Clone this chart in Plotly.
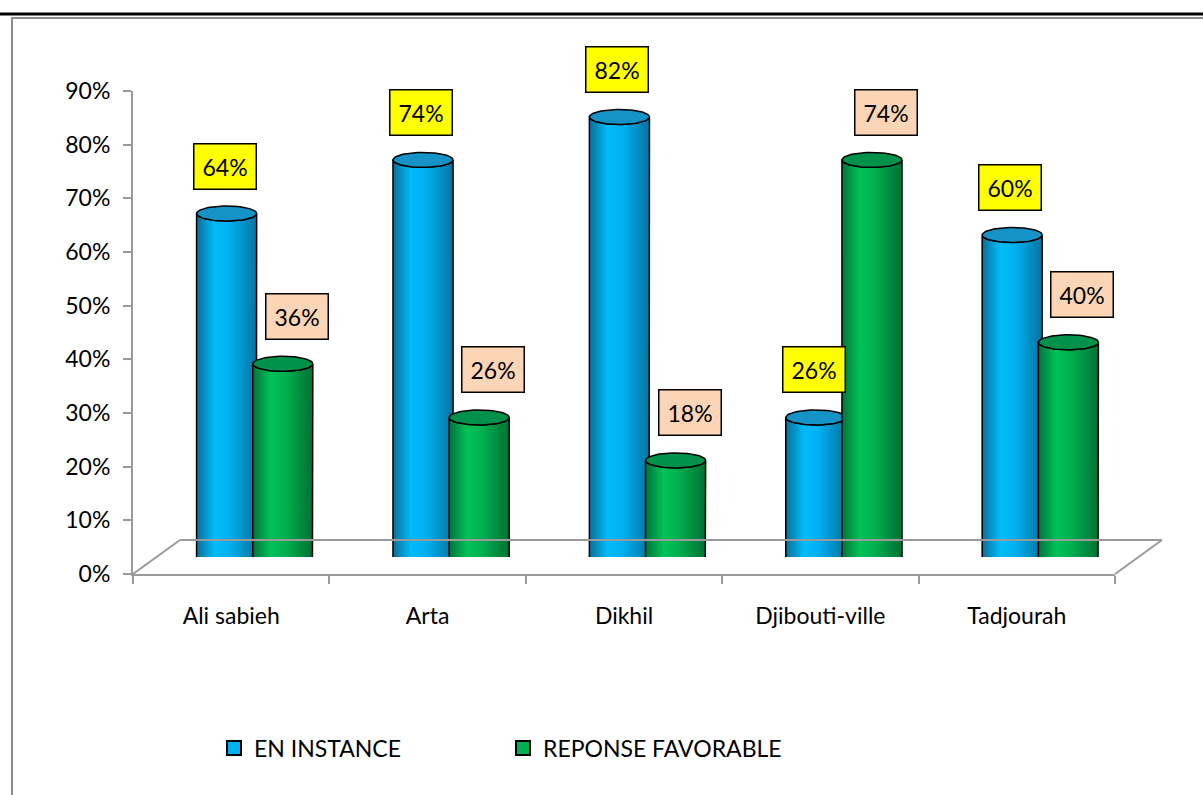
import numpy as np
import plotly.graph_objects as go

categories = ["Ali sabieh", "Arta", "Dikhil", "Djibouti-ville", "Tadjourah"]
en_instance = [0.64, 0.74, 0.82, 0.26, 0.60]
reponse_favorable = [0.36, 0.26, 0.18, 0.74, 0.40]
series_names = ["EN INSTANCE", "REPONSE FAVORABLE"]

W, H = 1203, 795
FONT = "Lato, 'Open Sans', sans-serif"
FS = 23

def px_x(p):
    return p / W

def px_y(p):
    return (H - p) / H

# front plane axis geometry (pixels)
X0, X1 = 133, 1115
Y0, Y90 = 574, 91
DX, DY = 47, 34  # depth offset of the 3D floor

fig = go.Figure()

# invisible trace to establish the category axis (front plane)
fig.add_trace(go.Scatter(x=categories, y=[0] * len(categories), mode="markers",
                         marker=dict(opacity=0), showlegend=False, hoverinfo="skip",
                         xaxis="x", yaxis="y"))

rx = 0.153
ry = 7.5 * 0.9 / (Y0 - Y90)
offs = [-0.143, 0.143]
grad = [
    [[0, "#0a6e99"], [0.3, "#00bcf8"], [0.55, "#00b0f0"], [1, "#06739f"]],
    [[0, "#00743a"], [0.3, "#00c257"], [0.55, "#00b050"], [1, "#006f33"]],
]
base_col = ["#00B0F0", "#00B050"]
capcol = ["#1593c6", "#00924a"]
label_bg = ["#FFFF00", "#FBD5B5"]
label_xshift = [-2, 14]

t_front = np.linspace(np.pi, 2 * np.pi, 40)
t_back = np.linspace(2 * np.pi, np.pi, 40)
t_full = np.linspace(0, 2 * np.pi, 80)

for s, vals in enumerate([en_instance, reponse_favorable]):
    for i, v in enumerate(vals):
        c = i + offs[s]
        xs = np.concatenate([c + rx * np.cos(t_front), c + rx * np.cos(t_back)])
        ys = np.concatenate([v + ry * np.sin(t_front), ry * np.sin(t_back)])
        xs = np.append(xs, xs[0])
        ys = np.append(ys, ys[0])
        fig.add_trace(go.Scatter(
            x=xs, y=ys, mode="lines", fill="toself",
            fillgradient=dict(type="horizontal", colorscale=grad[s]),
            line=dict(color="black", width=1.5),
            name=series_names[s], legendgroup=series_names[s],
            showlegend=False, hoverinfo="skip", xaxis="x2", yaxis="y2"))
        fig.add_trace(go.Scatter(
            x=c + rx * np.cos(t_full), y=v + ry * np.sin(t_full), mode="lines",
            fill="toself", fillcolor=capcol[s], line=dict(color="black", width=1.5),
            legendgroup=series_names[s], showlegend=False, hoverinfo="skip",
            xaxis="x2", yaxis="y2"))
        fig.add_annotation(
            x=c, y=v + ry, xref="x2", yref="y2", text=f"{round(v * 100)}%",
            showarrow=False, yshift=40, xshift=label_xshift[s],
            bgcolor=label_bg[s], bordercolor="black", borderwidth=1.5, borderpad=8,
            font=dict(family=FONT, size=FS, color="black"))

# legend entries (square keys)
for s in range(2):
    fig.add_trace(go.Scatter(
        x=[None], y=[None], mode="markers", name=series_names[s],
        legendgroup=series_names[s], showlegend=True,
        marker=dict(symbol="square", size=14, color=base_col[s],
                    line=dict(color="black", width=2)),
        xaxis="x2", yaxis="y2"))

shapes = []
gray = "#9a9a9a"
# floor
shapes.append(dict(type="line", xref="paper", yref="paper",
                   x0=px_x(X0), y0=px_y(Y0), x1=px_x(X0 + DX), y1=px_y(Y0 - DY),
                   line=dict(color=gray, width=2)))
shapes.append(dict(type="line", xref="paper", yref="paper",
                   x0=px_x(X0 + DX), y0=px_y(Y0 - DY), x1=px_x(X1 + DX), y1=px_y(Y0 - DY),
                   line=dict(color=gray, width=2)))
shapes.append(dict(type="line", xref="paper", yref="paper",
                   x0=px_x(X1), y0=px_y(Y0), x1=px_x(X1 + DX), y1=px_y(Y0 - DY),
                   line=dict(color=gray, width=2)))
# outer frame
shapes.append(dict(type="line", xref="paper", yref="paper",
                   x0=0, y0=px_y(14), x1=1, y1=px_y(14),
                   line=dict(color="black", width=3)))
shapes.append(dict(type="line", xref="paper", yref="paper",
                   x0=px_x(11), y0=px_y(18), x1=1, y1=px_y(18),
                   line=dict(color="#8c8c8c", width=2)))
shapes.append(dict(type="line", xref="paper", yref="paper",
                   x0=px_x(12), y0=px_y(18), x1=px_x(12), y1=0,
                   line=dict(color="#8c8c8c", width=2)))

fig.update_layout(
    width=W, height=H,
    margin=dict(l=0, r=0, t=0, b=0, autoexpand=False),
    paper_bgcolor="white", plot_bgcolor="rgba(0,0,0,0)",
    font=dict(family=FONT, size=FS, color="black"),
    xaxis=dict(domain=[px_x(X0), px_x(X1)], type="category", categoryarray=categories,
               range=[-0.5, len(categories) - 0.5], tickson="boundaries",
               ticks="outside", ticklen=8, tickcolor=gray, tickwidth=2,
               showline=True, linecolor=gray, linewidth=2, showgrid=False,
               zeroline=False, ticklabelstandoff=20, fixedrange=True, automargin=False,
               tickfont=dict(family=FONT, size=FS, color="black")),
    yaxis=dict(domain=[px_y(Y0), px_y(Y90)], range=[0, 0.9], dtick=0.1,
               tickformat=".0%", ticks="outside", ticklen=8, tickcolor=gray,
               tickwidth=2, showline=True, linecolor=gray, linewidth=2,
               showgrid=False, zeroline=False, ticklabelstandoff=8, fixedrange=True,
               automargin=False,
               tickfont=dict(family=FONT, size=FS, color="black")),
    xaxis2=dict(domain=[px_x(X0 + DX / 2), px_x(X1 + DX / 2)], range=[-0.5, len(categories) - 0.5],
                visible=False, anchor="y2", fixedrange=True),
    yaxis2=dict(domain=[px_y(Y0 - DY / 2), px_y(Y90 - DY / 2)], range=[0, 0.9],
                visible=False, anchor="x2", fixedrange=True),
    shapes=shapes,
    showlegend=True,
    legend=dict(orientation="h", x=px_x(214), y=px_y(748), xanchor="left", yanchor="middle",
                entrywidth=244, entrywidthmode="pixels",
                font=dict(family=FONT, size=FS, color="black"),
                bgcolor="rgba(0,0,0,0)"),
)

fig.write_html("out.html")
